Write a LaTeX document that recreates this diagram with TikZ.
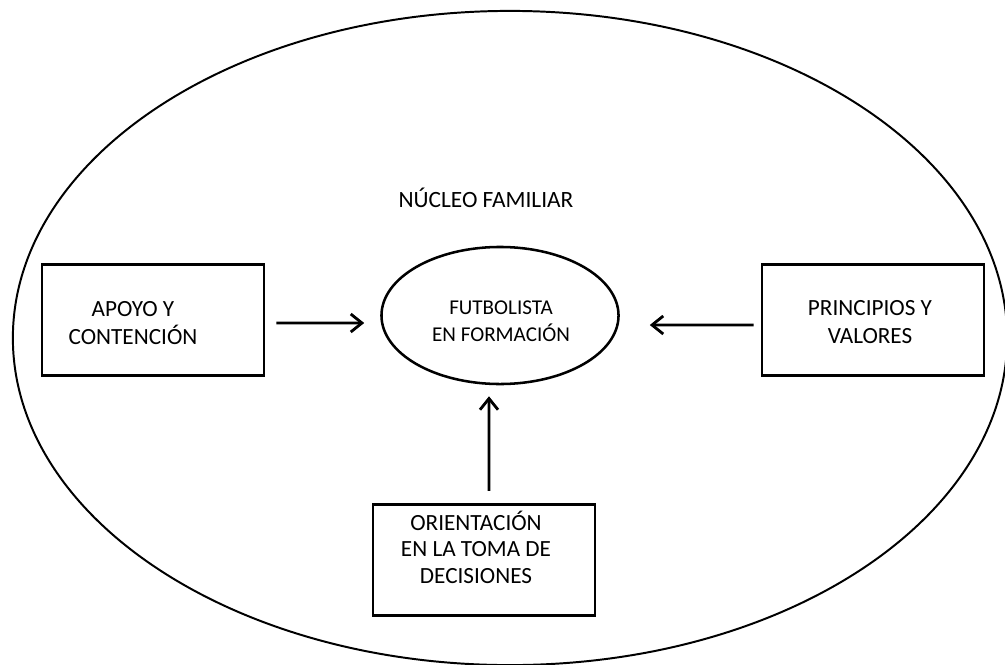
\documentclass[tikz,border=0pt]{standalone}
\usepackage{fontspec}
\setmainfont{Carlito}
\usetikzlibrary{arrows.meta,calc,shapes.geometric}

\tikzset{
  caja/.style={draw, line width=2pt, minimum width=5.55cm, minimum height=2.78cm},
  texto/.style={align=center, font=\fontsize{16.5}{19.5}\selectfont},
  flecha/.style={line width=2pt, -{Straight Barb[length=0.28cm,width=0.45cm]}},
}

\begin{document}
\begin{tikzpicture}[x=0.025cm, y=-0.025cm]
  \useasboundingbox (0,0) rectangle (1005,664);
  % contorno familiar
  \node[ellipse, draw, line width=1.4pt, minimum width=24.85cm, minimum height=16.35cm, inner sep=0pt] (familia) at (510,338) {};
  \node[font=\fontsize{16.6}{19}\selectfont] (nucleo) at (486,198) {NÚCLEO FAMILIAR};
  % centro
  \node[ellipse, draw, line width=1.8pt, minimum width=5.925cm, minimum height=3.425cm, inner sep=0pt] (futbolista) at (500,315.5) {};
  \node[align=center, font=\fontsize{15}{19.2}\selectfont] (futbolistatxt) at ($(futbolista.center)+(1,6)$) {FUTBOLISTA\\EN FORMACIÓN};
  % cajas
  \node[caja] (apoyo) at (153,320) {};
  \node[texto] (apoyotxt) at ($(apoyo.center)+(-20,3)$) {APOYO Y\\CONTENCIÓN};
  \node[caja] (principios) at (873,320) {};
  \node[texto] (principiostxt) at ($(principios.center)+(-3,2)$) {PRINCIPIOS Y\\VALORES};
  \node[caja] (orientacion) at (484,560) {};
  \node[texto, font=\fontsize{16.5}{18.8}\selectfont] (orientaciontxt) at ($(orientacion.center)+(-8,-13)$) {ORIENTACIÓN\\EN LA TOMA DE\\DECISIONES};
  % flechas
  \draw[flecha, shorten <=0.275cm, shorten >=0.4cm] ([yshift=-0.075cm]apoyo.east) -- ([yshift=-0.1875cm]futbolista.west);
  \draw[flecha, shorten <=0.175cm, shorten >=0.75cm] ([yshift=-0.125cm]principios.west) -- ([yshift=-0.2375cm]futbolista.east);
  \draw[flecha, shorten <=0.3cm, shorten >=0.275cm] ([xshift=0.125cm]orientacion.north) -- ([xshift=-0.275cm]futbolista.south);
\end{tikzpicture}
\end{document}
